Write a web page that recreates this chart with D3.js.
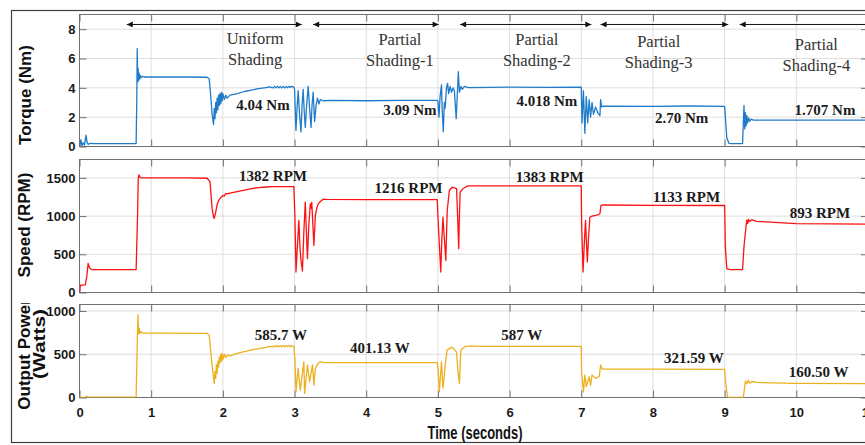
<!DOCTYPE html>
<html><head><meta charset="utf-8">
<script src="https://cdn.jsdelivr.net/npm/d3@7"></script>
<style>body{margin:0;background:#fff}svg{display:block}</style>
</head><body>
<svg id="c" width="865" height="445"></svg>
<script>
// ---------- data ----------
const xTicks = [0,1,2,3,4,5,6,7,8,9,10,11];
const torqueTicks = [0,2,4,6,8];
const speedTicks = [0,500,1000,1500];
const powerTicks = [0,500,1000];

const torque = [[0,0],[0.02,0.45],[0.035,0.05],[0.05,0.25],[0.07,0.1],[0.09,0.78],[0.105,0.3],[0.12,0.15],[0.15,0.22],[0.2,0.2],[0.79,0.2],[0.8,3.5],[0.805,6.68],[0.812,4.4],[0.818,5.3],[0.825,4.5],[0.832,5.0],[0.84,4.6],[0.85,4.85],[0.86,4.7],[0.88,4.78],[0.9,4.74],[1.0,4.75],[1.5,4.74],[1.78,4.72],[1.81,4.6],[1.83,3.5],[1.85,2.2],[1.87,1.5],[1.88,2.6],[1.89,1.9],[1.9,3.0],[1.91,2.3],[1.92,3.3],[1.93,2.5],[1.94,3.5],[1.95,2.8],[1.96,3.6],[1.97,2.9],[1.98,3.7],[1.99,3.1],[2.0,3.6],[2.02,3.2],[2.04,3.5],[2.06,3.3],[2.1,3.5],[2.2,3.6],[2.3,3.75],[2.4,3.85],[2.5,3.95],[2.6,4.02],[2.65,4.06],[2.7,4.0],[2.72,4.1],[2.74,4.0],[2.76,4.1],[2.78,4.0],[2.8,4.1],[2.82,4.0],[2.84,4.1],[2.86,4.0],[2.88,4.1],[2.9,4.0],[2.92,4.1],[2.94,4.02],[2.96,4.1],[2.99,4.05],
[3.0,3.9],[3.02,1.1],[3.035,2.6],[3.05,3.8],[3.07,2.2],[3.09,1.0],[3.105,2.8],[3.12,3.9],[3.135,2.4],[3.15,1.3],[3.17,2.9],[3.19,4.1],[3.21,2.6],[3.23,1.3],[3.245,2.9],[3.26,3.7],[3.28,1.7],[3.3,2.8],[3.32,3.3],[3.34,2.9],[3.36,3.2],[3.4,3.12],[3.5,3.15],[4.0,3.12],[4.5,3.15],[4.99,3.14],
[5.0,3.1],[5.015,2.0],[5.03,3.4],[5.05,4.2],[5.06,2.5],[5.075,1.0],[5.09,3.0],[5.1,2.6],[5.12,4.0],[5.135,4.3],[5.15,3.6],[5.17,4.1],[5.19,3.7],[5.21,4.0],[5.23,3.8],[5.255,1.9],[5.27,3.5],[5.285,5.1],[5.3,3.7],[5.32,4.1],[5.34,3.9],[5.37,4.1],[5.43,4.02],[6.0,4.05],[6.5,4.03],[7.0,4.04],
[7.01,1.6],[7.03,3.8],[7.05,0.9],[7.07,3.4],[7.09,1.6],[7.11,3.2],[7.13,2.0],[7.15,3.0],[7.17,2.2],[7.2,2.7],[7.23,2.3],[7.26,2.1],[7.27,3.2],[7.285,2.7],[7.3,2.75],[8.0,2.74],[8.5,2.76],[9.0,2.74],
[9.01,2.0],[9.03,0.6],[9.06,0.22],[9.1,0.2],[9.25,0.2],[9.26,1.5],[9.27,2.8],[9.28,1.2],[9.29,2.3],[9.3,1.4],[9.31,2.1],[9.32,1.6],[9.335,1.95],[9.35,1.72],[9.37,1.86],[9.4,1.8],[10.0,1.8],[11.0,1.8]];

const speed = [[0,0],[0.01,95],[0.08,100],[0.1,200],[0.12,380],[0.14,320],[0.17,300],[0.3,300],[0.79,300],[0.81,1000],[0.82,1500],[0.83,1540],[0.845,1505],[0.86,1500],[1.5,1500],[1.78,1495],[1.82,1450],[1.85,1100],[1.87,990],[1.88,970],[1.9,1050],[1.92,1150],[1.94,1200],[1.96,1230],[1.98,1250],[2.0,1270],[2.02,1260],[2.04,1295],[2.06,1290],[2.1,1300],[2.2,1320],[2.3,1340],[2.4,1360],[2.5,1372],[2.6,1380],[2.7,1385],[2.99,1385],
[3.005,1000],[3.02,268],[3.045,700],[3.06,943],[3.075,600],[3.09,420],[3.11,281],[3.13,800],[3.15,1182],[3.165,800],[3.18,442],[3.2,900],[3.22,1160],[3.23,1100],[3.24,1180],[3.255,900],[3.27,616],[3.29,1007],[3.31,1100],[3.33,1160],[3.36,1190],[3.4,1220],[3.45,1218],[4.0,1216],[4.99,1216],
[5.005,900],[5.04,268],[5.055,700],[5.07,985],[5.09,700],[5.11,420],[5.13,1073],[5.16,1334],[5.2,1377],[5.23,1370],[5.26,1360],[5.275,1000],[5.29,573],[5.3,1000],[5.31,1312],[5.35,1360],[5.42,1395],[6.0,1396],[7.0,1395],
[7.005,900],[7.025,268],[7.045,700],[7.06,942],[7.07,700],[7.085,398],[7.1,700],[7.12,985],[7.15,1000],[7.2,1010],[7.24,1020],[7.26,1030],[7.275,1140],[7.3,1145],[8.0,1140],[9.0,1138],
[9.01,600],[9.03,312],[9.08,300],[9.25,300],[9.27,600],[9.3,880],[9.31,950],[9.32,900],[9.335,955],[9.35,930],[9.38,950],[9.45,930],[10.0,900],[11.0,893]];

const power = [[0,0],[0.08,0],[0.1,15],[0.12,3],[0.15,5],[0.79,5],[0.8,400],[0.815,957],[0.825,740],[0.835,800],[0.845,740],[0.86,760],[0.88,745],[1.0,745],[1.78,742],[1.81,720],[1.84,450],[1.87,230],[1.88,163],[1.89,300],[1.9,220],[1.91,380],[1.92,280],[1.93,420],[1.94,350],[1.95,470],[1.96,400],[1.97,500],[1.98,420],[1.99,510],[2.0,440],[2.02,500],[2.04,460],[2.06,490],[2.1,480],[2.2,510],[2.3,530],[2.4,550],[2.5,565],[2.6,580],[2.65,590],[2.7,585],[2.72,600],[2.74,585],[2.76,600],[2.78,585],[2.8,600],[2.82,585],[2.84,600],[2.86,585],[2.88,600],[2.9,587],[2.92,600],[2.94,586],[2.96,598],[2.99,590],
[3.005,450],[3.02,65],[3.05,337],[3.08,85],[3.13,414],[3.14,47],[3.18,376],[3.21,182],[3.25,376],[3.27,143],[3.29,337],[3.33,395],[3.36,414],[3.4,403],[4.0,403],[4.99,403],
[5.005,300],[5.02,65],[5.05,414],[5.07,108],[5.11,434],[5.13,550],[5.2,583],[5.26,525],[5.28,300],[5.3,163],[5.32,550],[5.38,589],[5.45,597],[5.6,592],[6.0,590],[7.0,590],
[7.005,300],[7.03,65],[7.05,260],[7.07,124],[7.11,240],[7.13,143],[7.15,260],[7.2,221],[7.25,240],[7.27,376],[7.29,329],[8.0,327],[9.0,326],
[9.01,200],[9.04,0],[9.1,0],[9.26,0],[9.29,190],[9.31,160],[9.33,200],[9.35,165],[9.38,185],[9.45,174],[10.0,163],[11.0,160]];

// shading regions (start, end in seconds) and their labels
const regionStart = [0.66, 3.26, 5.31, 7.27, 9.21];
const regionEnd   = [3.10, 5.01, 7.14, 9.05, 11.1];
const regionLine1 = ["Uniform","Partial","Partial","Partial","Partial"];
const regionLine2 = ["Shading","Shading-1","Shading-2","Shading-3","Shading-4"];
const regionLabelT = [2.45, 4.47, 6.38, 8.08, 10.28];
const regionLabelV1 = [6.99, 6.92, 6.92, 6.80, 6.58];
const regionLabelV2 = [5.56, 5.49, 5.49, 5.33, 5.15];

const torqueNotes = [["4.04 Nm",2.56,2.49],["3.09 Nm",4.61,2.15],["4.018 Nm",6.52,2.76],["2.70 Nm",8.40,1.62],["1.707 Nm",10.40,2.15]];
const speedNotes = [["1382 RPM",2.70,1463],["1216 RPM",4.59,1306],["1383 RPM",6.56,1442],["1133 RPM",8.47,1188],["893 RPM",10.33,971]];
const powerNotes = [["585.7 W",2.81,665],["401.13 W",4.19,511],["587 W",6.17,665],["321.59 W",8.57,402],["160.50 W",10.31,240]];

// ---------- drawing ----------
const svg = d3.select("#c");
const SANS = "'Liberation Sans', Arial, sans-serif";
const SERIF = "'Liberation Serif', 'Times New Roman', serif";

// figure border
svg.append("rect").attr("x",11.5).attr("y",10.5).attr("width",880).attr("height",432)
  .attr("fill","#fff").attr("stroke","#404040").attr("stroke-width",1.2);

const x = d3.scaleLinear().domain([0,11]).range([79.5,868]);

const panels = [
  {id:"t", data:torque, color:"#1f7bc9", ticks:torqueTicks, y:d3.scaleLinear().domain([0,9]).range([146.5,14.5]), notes:torqueNotes, xlabels:false},
  {id:"s", data:speed, color:"#ff1010", ticks:speedTicks, y:d3.scaleLinear().domain([0,1740]).range([292.5,159.5]), notes:speedNotes, xlabels:false},
  {id:"p", data:power, color:"#edb120", ticks:powerTicks, y:d3.scaleLinear().domain([0,1075]).range([397.5,304.5]), notes:powerNotes, xlabels:true}
];

const defs = svg.append("defs");
defs.append("marker").attr("id","ah").attr("viewBox","0 0 10 10").attr("refX",10).attr("refY",5)
  .attr("markerWidth",7).attr("markerHeight",6).attr("markerUnits","userSpaceOnUse").attr("orient","auto-start-reverse")
  .append("path").attr("d","M0,0L10,5L0,10z").attr("fill","#111");
defs.append("clipPath").attr("id","ylabclip").append("rect").attr("x",0).attr("y",303).attr("width",80).attr("height",140);

panels.forEach(p => {
  const y = p.y;
  const [y0,y1] = y.range();
  const g = svg.append("g");
  defs.append("clipPath").attr("id","clip"+p.id).append("rect")
    .attr("x",x(0)).attr("y",y1).attr("width",x(11)-x(0)).attr("height",y0-y1);
  g.append("rect").attr("x",x(0)).attr("y",y1).attr("width",x(11)-x(0)).attr("height",y0-y1).attr("fill","#fff");
  // grid
  const grid = g.append("g").attr("stroke","#dedede").attr("stroke-width",1);
  xTicks.forEach(t => grid.append("line").attr("x1",x(t)).attr("x2",x(t)).attr("y1",y1).attr("y2",y0));
  p.ticks.forEach(v => grid.append("line").attr("x1",x(0)).attr("x2",x(11)).attr("y1",y(v)).attr("y2",y(v)));
  // axes with inward ticks
  const axL = d3.axisLeft(y).tickValues(p.ticks).tickSize(-7).tickPadding(4).tickFormat(d3.format("d"));
  const axR = d3.axisRight(y).tickValues(p.ticks).tickSize(-7).tickFormat("");
  const axB = d3.axisBottom(x).tickValues(xTicks).tickSize(-7).tickPadding(10).tickFormat(p.xlabels ? d3.format("d") : "");
  const axT = d3.axisTop(x).tickValues(xTicks).tickSize(-7).tickFormat("");
  const styleAx = sel => {
    sel.selectAll("path.domain").attr("stroke","#707070").attr("stroke-width",1);
    sel.selectAll(".tick line").attr("stroke","#707070");
    sel.selectAll("text").attr("font-family",SANS).attr("font-weight","bold").attr("font-size","13px").attr("fill","#1a1a1a");
  };
  g.append("g").attr("transform",`translate(${x(0)},0)`).call(axL).call(styleAx);
  g.append("g").attr("transform",`translate(${x(11)},0)`).call(axR).call(styleAx);
  g.append("g").attr("transform",`translate(0,${y0})`).call(axB).call(styleAx);
  g.append("g").attr("transform",`translate(0,${y1})`).call(axT).call(styleAx);
  g.selectAll(".domain").attr("d", null);
  g.append("rect").attr("x",x(0)).attr("y",y1).attr("width",x(11)-x(0)).attr("height",y0-y1)
    .attr("fill","none").attr("stroke","#707070").attr("stroke-width",1);
  // series
  g.append("path").datum(p.data).attr("clip-path",`url(#clip${p.id})`)
    .attr("fill","none").attr("stroke",p.color).attr("stroke-width",1.3).attr("stroke-linejoin","round")
    .attr("d", d3.line().x(d=>x(d[0])).y(d=>y(d[1])));
  // value notes
  g.selectAll("text.note").data(p.notes).join("text").attr("class","note")
    .attr("x",d=>x(d[1])).attr("y",d=>y(d[2])).attr("text-anchor","middle")
    .attr("font-family",SERIF).attr("font-weight","bold").attr("font-size","15px").attr("fill","#1a1a1a")
    .text(d=>d[0]);
});

// shading arrows and labels in torque panel
const yT = panels[0].y;
regionStart.forEach((s,i) => {
  svg.append("line").attr("x1",x(s)).attr("x2",x(regionEnd[i])).attr("y1",yT(8.32)).attr("y2",yT(8.32))
    .attr("stroke","#111").attr("stroke-width",1)
    .attr("marker-start","url(#ah)").attr("marker-end","url(#ah)");
  [[regionLine1[i],regionLabelV1[i]],[regionLine2[i],regionLabelV2[i]]].forEach(([txt,v]) => {
    svg.append("text").attr("x",x(regionLabelT[i])).attr("y",yT(v)).attr("text-anchor","middle")
      .attr("font-family",SERIF).attr("font-size","16.5px").attr("fill","#333").text(txt);
  });
});

// axis labels
const ylab = (txt,cx,cy,len,clip) => {
  const holder = clip ? svg.append("g").attr("clip-path","url(#ylabclip)") : svg;
  const t = holder.append("text").attr("transform",`translate(${cx},${cy}) rotate(-90)`).attr("text-anchor","middle")
    .attr("font-family",SANS).attr("font-weight","bold").attr("font-size","17px").attr("fill","#111").text(txt);
  if (len) t.attr("textLength",len).attr("lengthAdjust","spacingAndGlyphs");
};
ylab("Torque (Nm)",31,95);
ylab("Speed (RPM)",30,225);
ylab("Output Power",30,354,null,true);
ylab("(Watts)",45,344,70);
svg.append("text").attr("x",475).attr("y",438.5).attr("text-anchor","middle")
  .attr("font-family",SANS).attr("font-weight","bold").attr("font-size","17.5px").attr("fill","#111")
  .attr("textLength",95).attr("lengthAdjust","spacingAndGlyphs").text("Time (seconds)");
</script>
</body></html>
